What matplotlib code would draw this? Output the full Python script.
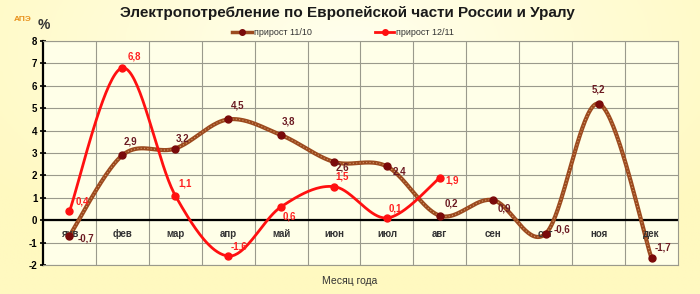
import numpy as np
import matplotlib
matplotlib.use("Agg")
import matplotlib.pyplot as plt
from matplotlib.lines import Line2D

months = ["янв", "фев", "мар", "апр", "май", "июн", "июл", "авг", "сен", "окт", "ноя", "дек"]
s1110 = [-0.7, 2.9, 3.2, 4.5, 3.8, 2.6, 2.4, 0.2, 0.9, -0.6, 5.2, -1.7]
s1211 = [0.4, 6.8, 1.1, -1.6, 0.6, 1.5, 0.1, 1.9]
name1 = "прирост 11/10"
name2 = "прирост 12/11"
title = "Электропотребление по Европейской части России и Уралу"
xlabel = "Месяц года"
yticks = list(range(-2, 9))

# label offsets in points (dx, dy)
off1 = [(12, -2), (6, 10), (5, 7), (7, 10), (5, 10), (6, -4), (9, -4), (8, 9), (8, -6), (12, 3), (0, 10), (8, 8)]
off2 = [(9, 7), (9, 8), (7, 9), (8, 7), (6, -7), (6, 7), (6, 7), (9, -2)]


def smooth(y, n=40):
    y = np.asarray(y, float)
    x = np.arange(len(y), dtype=float)
    P = np.column_stack([x, y])
    out = [P[0]]
    t = np.linspace(0, 1, n)[1:]
    for i in range(len(P) - 1):
        p0 = P[i - 1] if i > 0 else P[i]
        p3 = P[i + 2] if i + 2 < len(P) else P[i + 1]
        a, d = P[i], P[i + 1]
        b = a + (d - p0) / 6.0
        c = d - (p3 - a) / 6.0
        seg = ((1 - t) ** 3)[:, None] * a + (3 * (1 - t) ** 2 * t)[:, None] * b \
            + (3 * (1 - t) * t ** 2)[:, None] * c + (t ** 3)[:, None] * d
        out.extend(seg)
    out = np.array(out)
    return out[:, 0], out[:, 1]


fig = plt.figure(figsize=(7.0, 2.94), dpi=100)

# background gradient
bg = fig.add_axes([0, 0, 1, 1], zorder=-10)
gx, gy = np.meshgrid(np.linspace(-1, 1, 200), np.linspace(-1, 1, 100))
r = np.clip(np.sqrt(gx ** 2 * 0.6 + (gy + 0.7) ** 2 * 0.4), 0, 1)
c0 = np.array([255, 255, 238]) / 255
c1 = np.array([255, 249, 192]) / 255
img = c0[None, None, :] * (1 - r[..., None]) + c1[None, None, :] * r[..., None]
bg.imshow(img, aspect="auto", extent=[0, 1, 0, 1], origin="upper")
bg.axis("off")

ax = fig.add_axes([43 / 700, 29 / 294, 635 / 700, 224 / 294])
ax.set_facecolor("#FFFFE8")
x = np.arange(len(months))

# grid
for v in np.arange(0.5, 11.5, 1):
    ax.axvline(v, color="#9A9A8C", lw=0.8, zorder=1)
for v in yticks:
    ax.axhline(v, color="#9A9A8C", lw=0.8, zorder=1)
ax.axhline(0, color="black", lw=1.6, zorder=2)

# series 11/10
sx, sy = smooth(s1110)
ax.plot(sx, sy, color="#9C4A1E", lw=3.0, zorder=3, solid_capstyle="round")
ax.plot(sx, sy, color="#D49A6A", lw=0.8, ls=(0, (1, 2)), zorder=3.1)
ax.plot(x, s1110, "o", color="#7A0A0A", ms=5, zorder=4)

# series 12/11
x2 = np.arange(len(s1211))
sx2, sy2 = smooth(s1211)
ax.plot(sx2, sy2, color="#FF1010", lw=2.0, zorder=5)
ax.plot(x2, s1211, "o", color="#FF1010", ms=5, zorder=6)

for i, v in enumerate(s1110):
    ax.annotate(f"{v:.1f}".replace(".", ","), (x[i], v), xytext=off1[i], textcoords="offset points",
                ha="center", va="center", fontsize=7, fontweight="bold", color="#6B1A22",
                family="Liberation Sans", zorder=7)
for i, v in enumerate(s1211):
    ax.annotate(f"{v:.1f}".replace(".", ","), (x2[i], v), xytext=off2[i], textcoords="offset points",
                ha="center", va="center", fontsize=7, fontweight="bold", color="#FF2020",
                family="Liberation Sans", zorder=7)

# category labels at zero line
for i, m in enumerate(months):
    ax.text(x[i], -0.6, m, ha="center", va="center", fontsize=7, fontweight="bold",
            color="#333333", family="Liberation Sans", zorder=3.5)

ax.set_xlim(-0.5, 11.5)
ax.set_ylim(-2, 8)
ax.set_yticks(yticks)
ax.set_yticklabels([str(v) for v in yticks], fontsize=7, fontweight="bold", family="Liberation Sans")
ax.set_xticks([])
ax.tick_params(axis="y", length=4, width=1.2, direction="inout", pad=2)
for s in ["top", "right", "bottom"]:
    ax.spines[s].set_color("#9A9A8C")
    ax.spines[s].set_linewidth(0.8)
ax.spines["left"].set_linewidth(1.6)
ax.spines["left"].set_color("black")

fig.text(0.497, 0.955, title, ha="center", va="center", fontsize=11, fontweight="bold",
         color="#1A1A1A", family="Liberation Sans")
fig.text(0.062, 0.915, "%", ha="center", va="center", fontsize=10, fontweight="bold",
         color="#333333", family="Liberation Sans")
fig.text(0.5, 0.045, xlabel, ha="center", va="center", fontsize=7.5, color="#333333",
         family="Liberation Sans")
fig.text(0.032, 0.935, "АПЭ", ha="center", va="center", fontsize=6, fontweight="bold",
         color="#E8901A", family="Liberation Sans")

h1 = Line2D([], [], color="#9C4A1E", lw=2.5, marker="o", mfc="#7A0A0A", mec="#7A0A0A", ms=4)
h2 = Line2D([], [], color="#FF1010", lw=2, marker="o", mfc="#FF1010", mec="#FF1010", ms=4)
leg = fig.legend([h1, h2], [name1, name2], loc="center", bbox_to_anchor=(0.49, 0.888), ncol=2,
                 frameon=False, fontsize=6.5, handlelength=2.2, handletextpad=0.2,
                 columnspacing=7, prop={"family": "Liberation Sans", "size": 6.5})
for t in leg.get_texts():
    t.set_color("#333333")

fig.savefig("out.png", dpi=100)
